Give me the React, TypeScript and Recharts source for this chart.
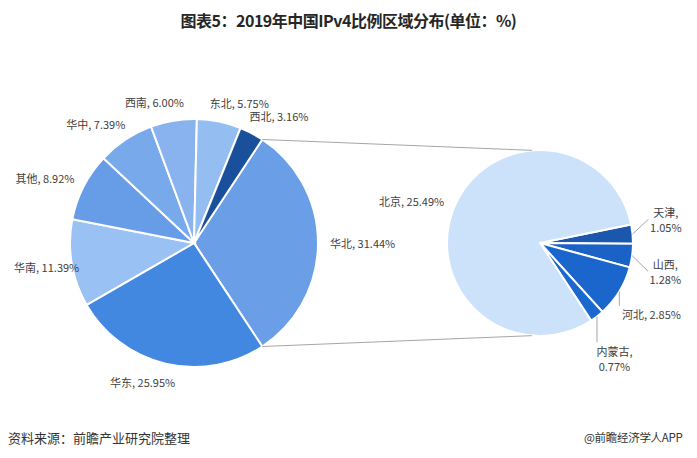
import React from 'react';
import { PieChart, Pie, Cell } from 'recharts';

// 左侧：全国各区域占比
const regions = ['华北', '华东', '华南', '其他', '华中', '西南', '东北', '西北'];
const regionShares = [31.44, 25.95, 11.39, 8.92, 7.39, 6.0, 5.75, 3.16];
const regionColors = ['#6a9fe8', '#4287e0', '#9ac1f3', '#679ce6', '#78a9eb', '#88b3ee', '#94bdf2', '#1a4f9b'];

// 右侧：华北拆分
const northCities = ['天津', '山西', '河北', '内蒙古', '北京'];
const northShares = [1.05, 1.28, 2.85, 0.77, 25.49];
const northColors = ['#1a57ad', '#1a62c6', '#1b66cc', '#1b68ce', '#cce2fb'];

const W = 697;
const H = 458;
const LEFT = { cx: 194, cy: 243, r: 124 };
const RIGHT = { cx: 540, cy: 243, r: 93 };
const NORTH_START = 11.5;
const REGION_START = (regionShares[0] / 100) * 360 / 2;

const RAD = Math.PI / 180;
const FONT = '"Noto Sans CJK SC", "Microsoft YaHei", sans-serif';
const labelStyle = { fontFamily: FONT, fontSize: 11, fill: '#404040' };
const leaderColor = '#a6a6a6';

const polar = (cx: number, cy: number, r: number, deg: number): [number, number] => [
  cx + r * Math.cos(deg * RAD),
  cy - r * Math.sin(deg * RAD),
];

const textWidth = (s: string, size = 11) =>
  [...s].reduce((w, ch) => {
    if (/[\u4e00-\u9fff]/.test(ch)) return w + size;
    if (ch === ',' || ch === ' ' || ch === '.') return w + size * 0.3;
    if (ch === '%') return w + size * 0.8;
    return w + size * 0.56;
  }, 0);

const fmt = (v: number) => `${v.toFixed(2)}%`;

// label box centre just outside the rim, pushed out by (roughly) half its size, kept inside the chart
const plainLabelCenter = (cx: number, cy: number, r: number, mid: number, w: number, h: number, off = 12) => {
  const [px, py] = polar(cx, cy, r + off, mid);
  const cos = Math.cos(mid * RAD);
  let x = px + (w / 2) * (0.5 * cos + 0.5 * Math.sign(cos));
  x = Math.min(Math.max(x, 14 + w / 2), W - 8 - w / 2);
  return [x, py - (h / 2) * Math.sin(mid * RAD)];
};

type NorthLabel = {
  kind: 'plain' | 'side' | 'bottom';
  lines: string[];
  mid: number;
  w: number;
  h: number;
  cx: number;
  cy: number;
};

const northTotal = northShares.reduce((a, b) => a + b, 0);

const northLabels: NorthLabel[] = (() => {
  let a = NORTH_START;
  const out: NorthLabel[] = northShares.map((v, i) => {
    const span = (v / northTotal) * 360;
    const mid = a - span / 2;
    a -= span;
    const cos = Math.cos(mid * RAD);
    const sin = Math.sin(mid * RAD);
    if (span > 90) {
      const line = `${northCities[i]}, ${fmt(v)}`;
      const w = textWidth(line);
      const [x, y] = plainLabelCenter(RIGHT.cx, RIGHT.cy, RIGHT.r, mid, w, 14);
      return { kind: 'plain', lines: [line], mid, w, h: 14, cx: x, cy: y };
    }
    const wrap = Math.abs(cos) > 0.95 || sin < -0.75;
    const lines = wrap ? [`${northCities[i]},`, fmt(v)] : [`${northCities[i]}, ${fmt(v)}`];
    const w = Math.max(...lines.map((l) => textWidth(l)));
    const h = lines.length * 15;
    const [kx, ky] = polar(RIGHT.cx, RIGHT.cy, RIGHT.r + 14, mid);
    if (Math.abs(sin) > 0.3) {
      return {
        kind: 'bottom',
        lines,
        mid,
        w,
        h,
        cx: kx + (w / 2) * cos * 0.8,
        cy: ky + 4 + (h / 2) * (1 + Math.abs(sin)),
      };
    }
    return { kind: 'side', lines, mid, w, h, cx: kx + 4 + w / 2, cy: ky };
  });

  // push overlapping side labels apart
  const side = out.filter((l) => l.kind === 'side').sort((p, q) => p.cy - q.cy);
  for (let pass = 0; pass < 10; pass++) {
    for (let i = 1; i < side.length; i++) {
      const p = side[i - 1];
      const q = side[i];
      const overlap = p.cy + p.h / 2 + 22 - (q.cy - q.h / 2);
      if (overlap > 0) {
        p.cy -= overlap / 2;
        q.cy += overlap / 2;
      }
    }
  }
  return out;
})();

const renderRegionLabel = (p: any) => {
  const { cx, cy, outerRadius, midAngle, index, startAngle, endAngle } = p;
  const text = `${regions[index]}, ${fmt(regionShares[index])}`;
  const [x, y] = plainLabelCenter(cx, cy, outerRadius, midAngle, textWidth(text), 14);
  let connectors = null;
  if (index === 0) {
    const [x1, y1] = polar(cx, cy, outerRadius, startAngle);
    const [x2, y2] = polar(RIGHT.cx, RIGHT.cy, RIGHT.r, 95);
    const [x3, y3] = polar(cx, cy, outerRadius, endAngle);
    const [x4, y4] = polar(RIGHT.cx, RIGHT.cy, RIGHT.r, -95);
    connectors = (
      <>
        <line x1={x1} y1={y1} x2={x2} y2={y2} stroke={leaderColor} strokeWidth={1} />
        <line x1={x3} y1={y3} x2={x4} y2={y4} stroke={leaderColor} strokeWidth={1} />
      </>
    );
  }
  return (
    <g key={`region-label-${index}`}>
      {connectors}
      <text x={x} y={y} textAnchor="middle" dominantBaseline="central" style={labelStyle}>
        {text}
      </text>
    </g>
  );
};

const renderNorthLabel = (p: any) => {
  const { cx, cy, outerRadius, index } = p;
  const l = northLabels[index];
  const top = l.cy - l.h / 2;
  let leader = null;
  if (l.kind !== 'plain') {
    const [ex, ey] = polar(cx, cy, outerRadius, l.mid);
    const [tx, ty] = l.kind === 'side' ? [l.cx - l.w / 2 - 2, l.cy] : [ex, top - 1];
    leader = <polyline points={`${ex},${ey} ${tx},${ty}`} fill="none" stroke={leaderColor} strokeWidth={1} />;
  }
  return (
    <g key={`north-label-${index}`}>
      {leader}
      {l.lines.map((line, i) => (
        <text
          key={i}
          x={l.cx}
          y={top + 7.5 + i * 15}
          textAnchor="middle"
          dominantBaseline="central"
          style={labelStyle}
        >
          {line}
        </text>
      ))}
    </g>
  );
};

const regionData = regions.map((name, i) => ({ name, value: regionShares[i] }));
const northData = northCities.map((name, i) => ({ name, value: northShares[i] }));

export default function App() {
  return (
    <div style={{ position: 'relative', width: W, height: H, margin: -8, background: '#fff', overflow: 'hidden' }}>
      <div
        style={{
          position: 'absolute',
          top: 8,
          left: 0,
          width: W,
          textAlign: 'center',
          fontFamily: FONT,
          fontWeight: 'bold',
          fontSize: 16,
          color: '#262626',
          letterSpacing: -0.5,
        }}
      >
        图表5：2019年中国IPv4比例区域分布(单位：%)
      </div>
      <div style={{ position: 'absolute', top: 0, left: 0 }}>
        <PieChart width={W} height={H} margin={{ top: 0, right: 0, bottom: 0, left: 0 }}>
          <Pie
            data={regionData}
            dataKey="value"
            nameKey="name"
            cx={LEFT.cx}
            cy={LEFT.cy}
            outerRadius={LEFT.r}
            startAngle={REGION_START}
            endAngle={REGION_START - 360}
            stroke="#ffffff"
            strokeWidth={2}
            label={renderRegionLabel}
            labelLine={false}
            isAnimationActive={false}
          >
            {regionData.map((d, i) => (
              <Cell key={d.name} fill={regionColors[i]} />
            ))}
          </Pie>
          <Pie
            data={northData}
            dataKey="value"
            nameKey="name"
            cx={RIGHT.cx}
            cy={RIGHT.cy}
            outerRadius={RIGHT.r}
            startAngle={NORTH_START}
            endAngle={NORTH_START - 360}
            stroke="#ffffff"
            strokeWidth={2}
            label={renderNorthLabel}
            labelLine={false}
            isAnimationActive={false}
          >
            {northData.map((d, i) => (
              <Cell key={d.name} fill={northColors[i]} />
            ))}
          </Pie>
        </PieChart>
      </div>
      <div
        style={{
          position: 'absolute',
          left: 8,
          top: 428,
          fontFamily: FONT,
          fontSize: 13,
          color: '#333',
          whiteSpace: 'nowrap',
        }}
      >
        资料来源：前瞻产业研究院整理
      </div>
      <div
        style={{
          position: 'absolute',
          left: 584,
          top: 429,
          fontFamily: FONT,
          fontSize: 11.5,
          color: '#333',
          whiteSpace: 'nowrap',
          letterSpacing: -0.3,
        }}
      >
        @前瞻经济学人APP
      </div>
    </div>
  );
}
